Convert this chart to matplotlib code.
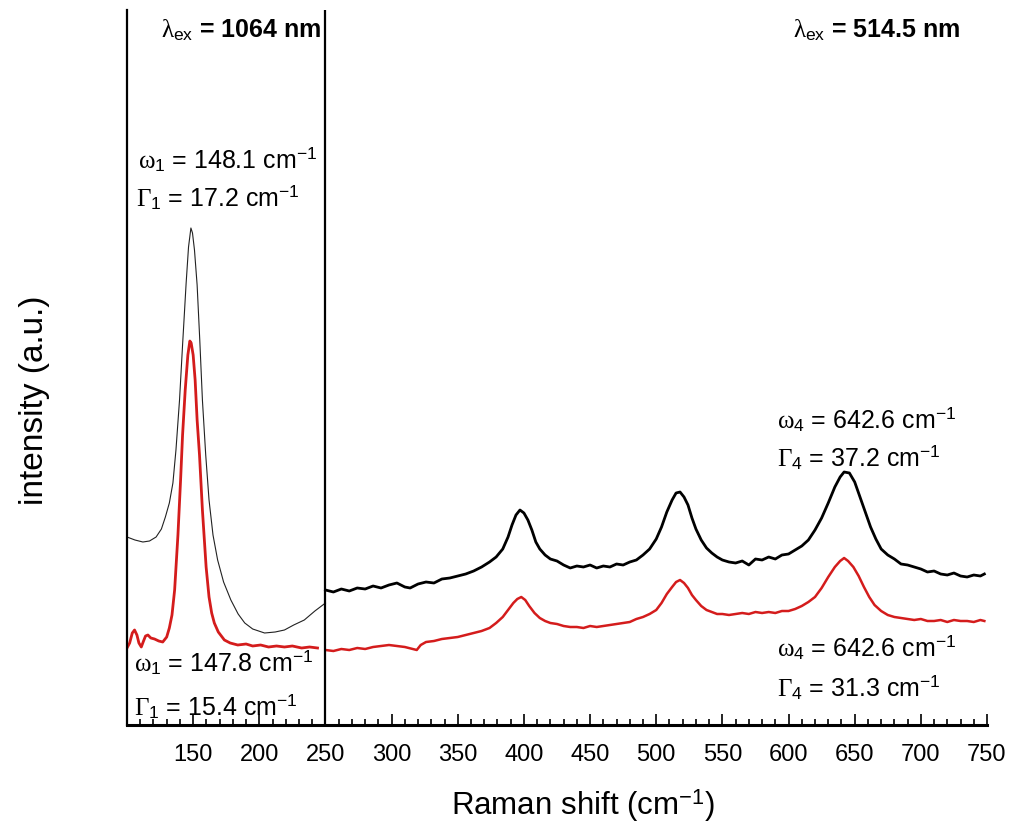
import numpy as np
import matplotlib
matplotlib.use('Agg')
import matplotlib.pyplot as plt
from matplotlib.ticker import MultipleLocator

plt.rcParams['font.family'] = ['Liberation Sans', 'DejaVu Sans']
plt.rcParams['mathtext.fontset'] = 'custom'
plt.rcParams['mathtext.rm'] = 'Liberation Serif'
plt.rcParams['mathtext.it'] = 'Liberation Serif'
plt.rcParams['mathtext.sf'] = 'Liberation Sans'

# 1064 nm excitation, low-frequency range (black thin / red)
x_ir_blk = [100, 106, 112, 117, 122, 126, 129, 132, 134.7, 137, 139.7, 142, 144.7, 146.5,
            148.3, 149.5, 151, 153, 155, 157, 159.5, 162, 165, 168.5, 173, 178.5, 184,
            189, 195, 204, 212, 219, 226, 234, 242, 250]
y_ir_blk = [188, 185, 183, 184, 188, 196, 208, 222, 242, 275, 325, 380, 442, 478,
            497, 492, 475, 440, 385, 325, 270, 225, 190, 165, 143, 125, 111,
            102, 96, 92, 93, 95, 100, 105, 114, 122]
x_ir_red = [100, 102, 104, 105.7, 107.5, 109, 110.8, 112.5, 114, 115.8, 118, 120.8, 124,
            127, 130, 132, 134, 136, 138.5, 140.5, 142, 144, 146, 147.5, 148.5, 150,
            151.5, 153, 154.8, 157, 159.8, 162, 164, 166, 169, 173.6, 178, 183.7, 190,
            195, 201, 207, 213, 219, 225, 232, 238, 244]
y_ir_red = [77, 82, 92, 95, 90, 82, 78, 84, 89, 90, 87, 86, 84,
            83, 88, 97, 110, 135, 190, 245, 290, 335, 370, 384, 382, 370,
            345, 305, 270, 215, 158, 128, 112, 102, 93, 85, 82, 80, 81,
            79, 80, 78, 79, 78, 79, 77, 78, 77]

# 514.5 nm excitation (black thick / red)
x_vis_blk = [250, 256, 262, 268, 274, 280, 286, 292, 298, 304, 310, 314, 320, 326, 332,
             338, 344, 350, 356, 362, 368, 374, 379, 384, 388, 391, 394, 397, 400, 403,
             406, 409, 412, 416, 420, 425, 430, 435, 440, 445, 450, 455, 460, 465, 470,
             475, 480, 485, 490, 495, 500, 504, 508, 512, 515, 518, 521, 524, 527, 530,
             534, 538, 542, 546, 550, 555, 560, 565, 570, 575, 580, 585, 590, 595, 600,
             605, 610, 615, 620, 625, 630, 635, 639, 642, 646, 650, 654, 658, 662, 666,
             670, 675, 680, 685, 690, 695, 700, 705, 710, 715, 720, 725, 730, 735, 740,
             745, 748]
y_vis_blk = [135, 133, 136, 134, 137, 136, 139, 137, 140, 142, 138, 137, 141, 143, 142,
             146, 147, 149, 151, 154, 158, 163, 168, 176, 188, 200, 210, 215, 212, 205,
             195, 183, 176, 170, 166, 164, 160, 157, 159, 158, 160, 157, 159, 158, 161,
             160, 163, 165, 170, 176, 186, 198, 213, 225, 232, 233, 228, 220, 207, 196,
             185, 177, 172, 168, 165, 163, 162, 164, 160, 166, 165, 168, 166, 170, 171,
             175, 179, 185, 195, 207, 222, 238, 248, 253, 252, 243, 228, 213, 198, 186,
             176, 170, 166, 161, 160, 158, 156, 153, 154, 151, 150, 152, 149, 148, 150,
             149, 151]
x_vis_red = [250, 256, 262, 268, 274, 280, 286, 292, 298, 304, 310, 316, 319, 322, 326,
             332, 338, 344, 350, 356, 362, 368, 374, 379, 384, 388, 392, 395, 398, 401,
             404, 408, 412, 416, 420, 425, 430, 435, 440, 445, 450, 455, 460, 465, 470,
             475, 480, 485, 490, 495, 500, 504, 508, 512, 515, 518, 521, 524, 527, 530,
             534, 538, 542, 546, 550, 555, 560, 565, 570, 575, 580, 585, 590, 595, 600,
             605, 610, 615, 620, 625, 630, 635, 639, 642, 645, 649, 653, 657, 661, 665,
             670, 675, 680, 685, 690, 695, 700, 705, 710, 715, 720, 725, 730, 735, 740,
             745, 748]
y_vis_red = [75, 74, 76, 75, 77, 76, 78, 79, 80, 79, 78, 76, 75, 80, 83,
             84, 86, 87, 88, 90, 92, 94, 97, 102, 108, 115, 122, 126, 128, 125,
             119, 112, 107, 104, 102, 101, 99, 98, 98, 97, 99, 98, 99, 100, 101,
             102, 103, 106, 108, 111, 115, 122, 131, 138, 143, 145, 142, 137, 130, 125,
             119, 115, 113, 111, 111, 110, 111, 112, 111, 113, 112, 113, 112, 114, 114,
             116, 119, 123, 128, 137, 148, 158, 164, 167, 164, 158, 149, 138, 128, 120,
             114, 110, 108, 107, 106, 105, 106, 104, 104, 105, 103, 105, 104, 104, 103,
             105, 104]

fig = plt.figure(figsize=(10.12, 8.36), dpi=100)
ax = fig.add_axes([127 / 1012, 1 - 725 / 836, 860 / 1012, 715 / 836])

red = '#d41c1c'
ax.plot(x_ir_blk, y_ir_blk, color='#222222', lw=0.8)
ax.plot(x_ir_red, y_ir_red, color=red, lw=2.0)
ax.plot(x_vis_blk, y_vis_blk, color='black', lw=2.0)
ax.plot(x_vis_red, y_vis_red, color=red, lw=1.8)
ax.axvline(250, color='black', lw=1.6)

ax.set_xlim(100, 750)
ax.set_ylim(0, 715)
ax.set_xticks(np.arange(150, 751, 50))
ax.xaxis.set_minor_locator(MultipleLocator(10))
ax.tick_params(axis='x', which='major', direction='in', length=8, width=1.2,
               labelsize=17, pad=14)
ax.tick_params(axis='x', which='minor', direction='in', length=4.5, width=1.2)
ax.set_yticks([])
for s in ['top', 'right']:
    ax.spines[s].set_visible(False)
ax.spines['left'].set_linewidth(1.6)
ax.spines['bottom'].set_linewidth(2.2)

fs = 18
tkw = dict(fontsize=fs, va='center', ha='left')
ax.text(108, 725 - 160, r'$\omega_{\mathsf{1}}$ = 148.1 cm$^{\mathsf{-1}}$', **tkw)
ax.text(107, 725 - 198, r'$\Gamma_{\mathsf{1}}$ = 17.2 cm$^{\mathsf{-1}}$', **tkw)
ax.text(105, 725 - 663, r'$\omega_{\mathsf{1}}$ = 147.8 cm$^{\mathsf{-1}}$', **tkw)
ax.text(105, 725 - 707, r'$\Gamma_{\mathsf{1}}$ = 15.4 cm$^{\mathsf{-1}}$', **tkw)
ax.text(591, 725 - 420, r'$\omega_{\mathsf{4}}$ = 642.6 cm$^{\mathsf{-1}}$', **tkw)
ax.text(591, 725 - 458, r'$\Gamma_{\mathsf{4}}$ = 37.2 cm$^{\mathsf{-1}}$', **tkw)
ax.text(591, 725 - 648, r'$\omega_{\mathsf{4}}$ = 642.6 cm$^{\mathsf{-1}}$', **tkw)
ax.text(591, 725 - 688, r'$\Gamma_{\mathsf{4}}$ = 31.3 cm$^{\mathsf{-1}}$', **tkw)

ax.text(247, 725 - 30, r'$\lambda_{\mathsf{ex}}$ = 1064 nm', fontsize=18,
        fontweight='bold', ha='right', va='center')
ax.text(730, 725 - 30, r'$\lambda_{\mathsf{ex}}$ = 514.5 nm', fontsize=18,
        fontweight='bold', ha='right', va='center')

fig.text(583 / 1012, 1 - 806 / 836, r'Raman shift (cm$^{\mathsf{-1}}$)', fontsize=22.5,
         ha='center', va='center')
fig.text(35 / 1012, 1 - 400 / 836, 'intensity (a.u.)', fontsize=24, rotation=90,
         ha='center', va='center')

fig.savefig('out.png', dpi=100)
